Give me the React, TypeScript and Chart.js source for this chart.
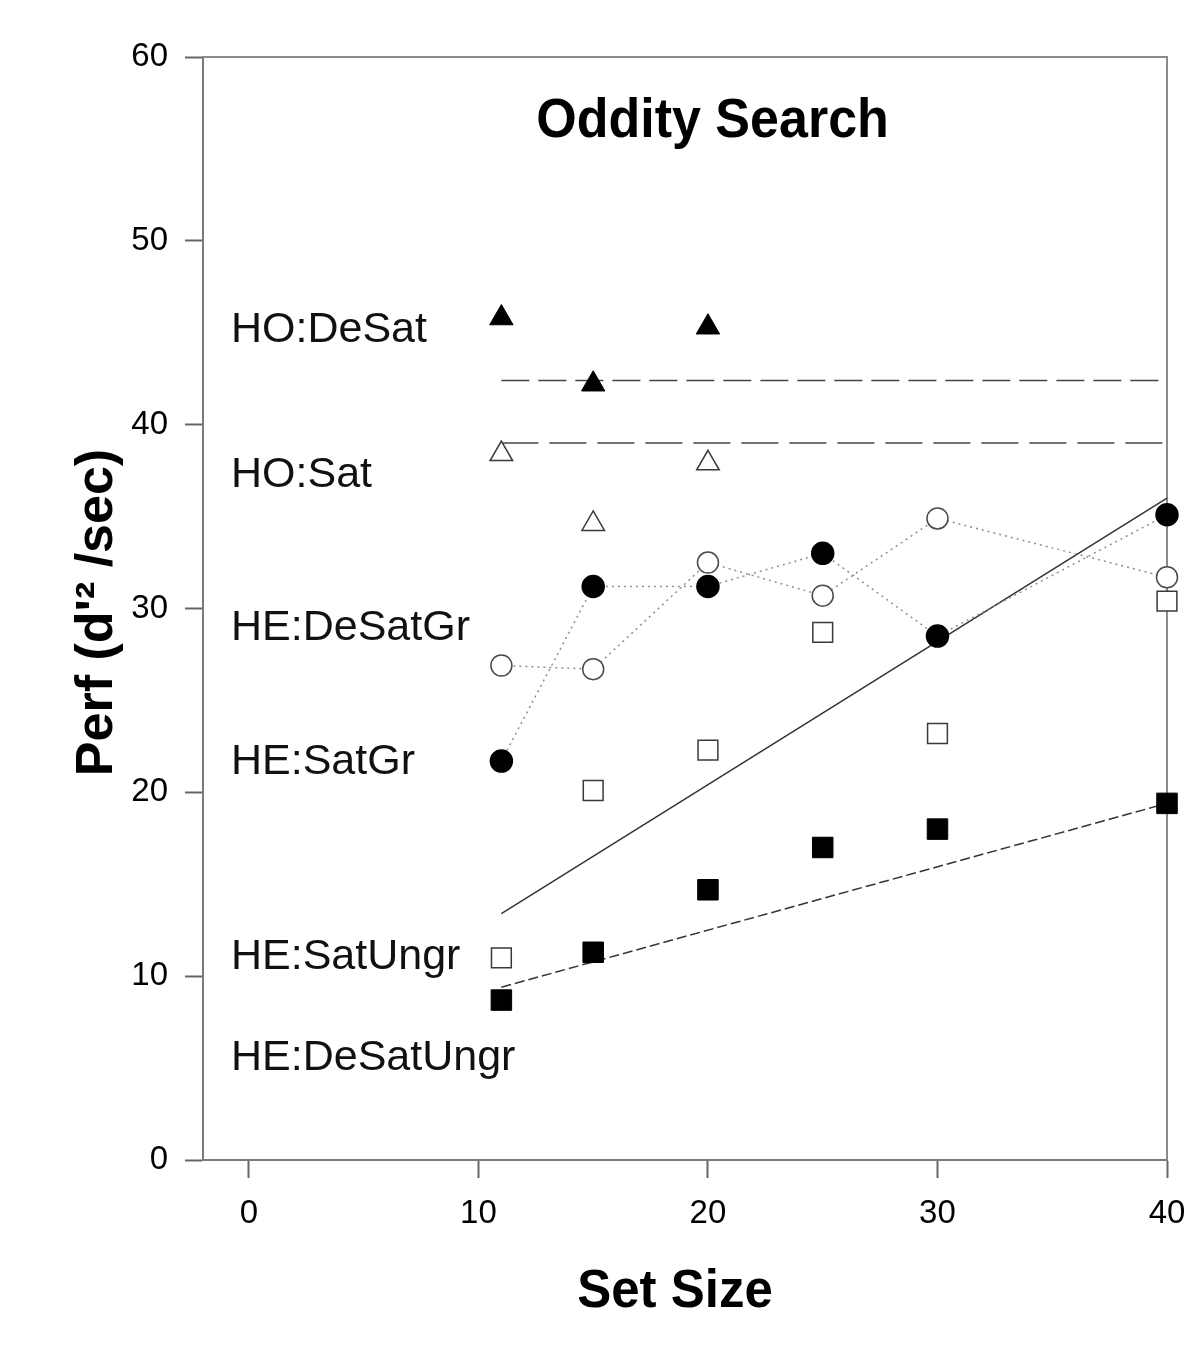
import React, { useEffect, useRef } from "react";
import { Chart, registerables } from "chart.js";

Chart.register(...registerables);

// Set sizes used in the experiment
const setSizes = [11, 15, 20, 25, 30, 40];
const hoSetSizes = [11, 15, 20];

// Performance (d'^2 / sec) per condition
const hoDeSat = [45.8, 42.2, 45.3];
const hoSat = [38.4, 34.6, 37.9];
const heDeSatGr = [26.9, 26.7, 32.5, 30.7, 34.9, 31.7];
const heSatGr = [21.7, 31.2, 31.2, 33.0, 28.5, 35.1];
const heSatUngr = [11.0, 20.1, 22.3, 28.7, 23.2, 30.4];
const heDeSatUngr = [8.7, 11.3, 14.7, 17.0, 18.0, 19.4];

// Fitted lines, evaluated at the ends of the set-size range
const fitRange = [11, 40];
const hoDeSatMean = [42.4, 42.4];
const hoSatMean = [39.0, 39.0];
const heSatUngrFit = [13.4, 36.0];
const heDeSatUngrFit = [9.4, 19.4];

// Axis ticks
const xTicks = [0, 10, 20, 30, 40];
const yTicks = [0, 10, 20, 30, 40, 50, 60];

// Condition names written inside the plot, with the level they sit at
const conditionNames = ["HO:DeSat", "HO:Sat", "HE:DeSatGr", "HE:SatGr", "HE:SatUngr", "HE:DeSatUngr"];
const conditionLevels = [45.3, 37.4, 29.1, 21.8, 11.2, 5.7];

const FONT = '"Liberation Sans", Arial, Helvetica, sans-serif';

const toPoints = (xs: number[], ys: number[]) => xs.map((x, i) => ({ x, y: ys[i] }));

const frameAndText = {
  id: "frameAndText",
  beforeDatasetsDraw(chart: any) {
    const { ctx, chartArea } = chart;
    ctx.save();
    ctx.strokeStyle = "#8a8a8a";
    ctx.lineWidth = 2;
    ctx.beginPath();
    ctx.moveTo(chartArea.left, chartArea.top);
    ctx.lineTo(chartArea.right, chartArea.top);
    ctx.lineTo(chartArea.right, chartArea.bottom);
    ctx.stroke();
    ctx.restore();
  },
  afterDraw(chart: any) {
    const { ctx, chartArea, scales } = chart;
    const xs = scales.x;
    const ys = scales.y;
    ctx.save();
    ctx.fillStyle = "#000";

    // chart title
    ctx.font = `bold 52px ${FONT}`;
    ctx.textAlign = "center";
    ctx.textBaseline = "alphabetic";
    ctx.save();
    ctx.translate(xs.getPixelForValue(20.2), chartArea.top + 80);
    ctx.scale(1, 1.06);
    ctx.fillText("Oddity Search", 0, 0);
    ctx.restore();

    // condition names
    ctx.font = `43px ${FONT}`;
    ctx.textAlign = "left";
    ctx.fillStyle = "#111";
    conditionNames.forEach((name, i) => {
      ctx.fillText(name, chartArea.left + 28, ys.getPixelForValue(conditionLevels[i]) + 15);
    });

    // x axis title
    ctx.fillStyle = "#000";
    ctx.font = `bold 51px ${FONT}`;
    ctx.textAlign = "center";
    ctx.save();
    ctx.translate(675, chartArea.bottom + 147);
    ctx.scale(1, 1.05);
    ctx.fillText("Set Size", 0, 0);
    ctx.restore();

    // y axis title
    ctx.save();
    ctx.translate(112, (chartArea.top + chartArea.bottom) / 2 + 4);
    ctx.rotate(-Math.PI / 2);
    ctx.font = `bold 52px ${FONT}`;
    ctx.textAlign = "center";
    ctx.fillText("Perf (d'\u00B2 /sec)", 0, 0);
    ctx.restore();

    ctx.restore();
  },
};

export default function App() {
  const canvasRef = useRef<HTMLCanvasElement | null>(null);

  useEffect(() => {
    const canvas = canvasRef.current;
    if (!canvas) return;

    const openStyle = {
      backgroundColor: "#ffffff",
      borderColor: "#3a3a3a",
      borderWidth: 1.5,
    };
    const filledStyle = {
      backgroundColor: "#000000",
      borderColor: "#000000",
      borderWidth: 1,
    };

    const chart = new Chart(canvas, {
      type: "scatter",
      data: {
        datasets: [
          {
            label: "HO:DeSat",
            data: toPoints(hoSetSizes, hoDeSat),
            pointStyle: "triangle",
            pointRadius: 13.5,
            showLine: false,
            order: 1,
            ...filledStyle,
          },
          {
            label: "HO:Sat",
            data: toPoints(hoSetSizes, hoSat),
            pointStyle: "triangle",
            pointRadius: 13,
            showLine: false,
            order: 1,
            ...openStyle,
          },
          {
            label: "HE:DeSatGr",
            data: toPoints(setSizes, heDeSatGr),
            pointStyle: "circle",
            pointRadius: 10.5,
            showLine: true,
            borderDash: [2, 4],
            pointBackgroundColor: "#ffffff",
            pointBorderColor: "#4a4a4a",
            pointBorderWidth: 1.5,
            borderColor: "#8f8f8f",
            borderWidth: 1.5,
            order: 1,
          },
          {
            label: "HE:SatGr",
            data: toPoints(setSizes, heSatGr),
            pointStyle: "circle",
            pointRadius: 11,
            showLine: true,
            borderDash: [2, 4],
            pointBackgroundColor: "#000000",
            pointBorderColor: "#000000",
            borderColor: "#8f8f8f",
            borderWidth: 1.5,
            order: 1,
          },
          {
            label: "HE:SatUngr",
            data: toPoints(setSizes, heSatUngr),
            pointStyle: "rect",
            pointRadius: 14,
            showLine: false,
            order: 1,
            ...openStyle,
          },
          {
            label: "HE:DeSatUngr",
            data: toPoints(setSizes, heDeSatUngr),
            pointStyle: "rect",
            pointRadius: 14.5,
            showLine: false,
            order: 1,
            ...filledStyle,
          },
          {
            label: "HO:DeSat mean",
            data: toPoints(fitRange, hoDeSatMean),
            showLine: true,
            pointRadius: 0,
            borderColor: "#444",
            borderWidth: 1.5,
            borderDash: [28, 9],
            order: 2,
          },
          {
            label: "HO:Sat mean",
            data: toPoints(fitRange, hoSatMean),
            showLine: true,
            pointRadius: 0,
            borderColor: "#444",
            borderWidth: 1.5,
            borderDash: [37, 11],
            order: 2,
          },
          {
            label: "HE:SatUngr fit",
            data: toPoints(fitRange, heSatUngrFit),
            showLine: true,
            pointRadius: 0,
            borderColor: "#333",
            borderWidth: 1.5,
            order: 2,
          },
          {
            label: "HE:DeSatUngr fit",
            data: toPoints(fitRange, heDeSatUngrFit),
            showLine: true,
            pointRadius: 0,
            borderColor: "#333",
            borderWidth: 1.5,
            borderDash: [10, 4],
            order: 2,
          },
        ].map((d) => ({ ...d, clip: false })),
      },
      options: {
        responsive: false,
        animation: false,
        devicePixelRatio: 1,
        layout: { padding: { left: 0, top: 57, right: 36, bottom: 0 } },
        plugins: {
          legend: { display: false },
          tooltip: { enabled: false },
          title: { display: false },
        },
        scales: {
          x: {
            type: "linear",
            min: -2,
            max: 40,
            afterBuildTicks: (s: any) => {
              s.ticks = xTicks.map((v) => ({ value: v }));
            },
            afterFit: (s: any) => {
              s.height = 195;
            },
            grid: {
              drawOnChartArea: false,
              drawTicks: true,
              tickLength: 18,
              tickColor: "#666",
              tickWidth: 2,
            },
            border: { display: true, color: "#7a7a7a", width: 2 },
            ticks: {
              font: { family: FONT, size: 33 },
              color: "#000",
              padding: 16,
              maxRotation: 0,
              autoSkip: false,
            },
          },
          y: {
            type: "linear",
            min: 0,
            max: 60,
            afterBuildTicks: (s: any) => {
              s.ticks = yTicks.map((v) => ({ value: v }));
            },
            afterFit: (s: any) => {
              s.width = 203;
            },
            grid: {
              drawOnChartArea: false,
              drawTicks: true,
              tickLength: 18,
              tickColor: "#666",
              tickWidth: 2,
            },
            border: { display: true, color: "#7a7a7a", width: 2 },
            ticks: {
              font: { family: FONT, size: 33 },
              color: "#000",
              padding: 17,
              autoSkip: false,
            },
          },
        },
      },
      plugins: [frameAndText],
    } as any);

    return () => chart.destroy();
  }, []);

  return (
    <div style={{ position: "absolute", left: 0, top: 0, width: 1203, height: 1355, background: "#fff" }}>
      <canvas ref={canvasRef} width={1203} height={1355} style={{ display: "block" }} />
    </div>
  );
}
